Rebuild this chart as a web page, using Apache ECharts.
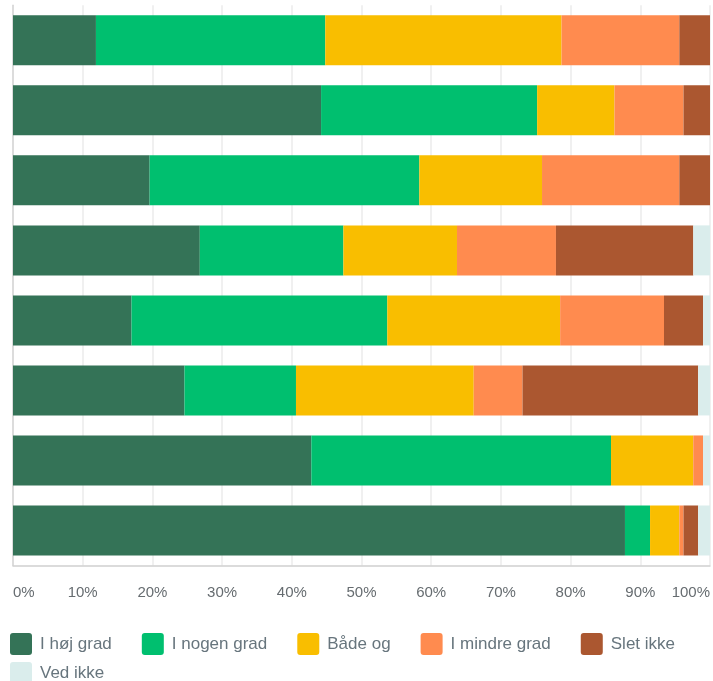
<!DOCTYPE html>
<html>
<head>
<meta charset="utf-8">
<script src="https://cdn.jsdelivr.net/npm/echarts@6/dist/echarts.min.js"></script>
<style>html,body{margin:0;padding:0;background:#fff;}#c{width:713px;height:681px;}</style>
</head>
<body>
<div id="c"></div>
<script>
const categories = ['1', '2', '3', '4', '5', '6', '7', '8'];
const seriesNames = ['I høj grad', 'I nogen grad', 'Både og', 'I mindre grad', 'Slet ikke', 'Ved ikke'];
const hojGrad    = [11.9, 44.2, 19.6, 26.8, 17.0, 24.6, 42.8, 87.8];
const nogenGrad  = [32.9, 31.0, 38.7, 20.6, 36.7, 16.0, 43.0, 3.6];
const badeOg     = [33.9, 11.1, 17.6, 16.3, 24.8, 25.5, 11.8, 4.2];
const mindreGrad = [16.9, 9.9, 19.7, 14.2, 14.9, 7.0, 1.4, 0.6];
const sletIkke   = [4.4, 3.8, 4.4, 19.7, 5.6, 25.2, 0, 2.1];
const vedIkke    = [0, 0, 0, 2.4, 1.0, 1.7, 1.0, 1.7];
const tickLabels = ['0%', '10%', '20%', '30%', '40%', '50%', '60%', '70%', '80%', '90%', '100%'];
const colors = ['#347357', '#00BF6F', '#F9BE00', '#FF8B4F', '#AB5730', '#DAEDEC'];

const values = [hojGrad, nogenGrad, badeOg, mindreGrad, sletIkke, vedIkke];
const chart = echarts.init(document.getElementById('c'), null, {renderer: 'canvas'});
const fontFamily = '"Liberation Sans", Arial, sans-serif';
const legendText = {color: '#67757d', fontSize: 17, fontFamily: fontFamily, padding: [0, 0, 0, 3]};
const legendBase = {
  left: 10, padding: 0, itemWidth: 22, itemHeight: 22, itemGap: 30,
  icon: 'path://M3,0 L19,0 Q22,0 22,3 L22,19 Q22,22 19,22 L3,22 Q0,22 0,19 L0,3 Q0,0 3,0 Z',
  textStyle: legendText
};
chart.setOption({
  animation: false,
  color: colors,
  grid: {left: 13, right: 1.5, top: 5.3, bottom: 115.5, containLabel: false},
  xAxis: {
    type: 'value', min: 0, max: 100, interval: 10,
    axisLabel: {
      formatter: v => tickLabels[Math.round(v / 10)],
      color: '#666c70', fontSize: 15, fontFamily: fontFamily, margin: 20,
      alignMinLabel: 'left', alignMaxLabel: 'right'
    },
    axisLine: {show: true, lineStyle: {color: '#d0d0d0', width: 1.5}},
    axisTick: {show: false},
    splitLine: {show: true, lineStyle: {color: '#ebebeb', width: 1.5}}
  },
  yAxis: {
    type: 'category', data: categories, inverse: true,
    axisLabel: {show: false},
    axisTick: {show: false},
    axisLine: {show: true, lineStyle: {color: '#d6d6d6', width: 1.5}}
  },
  legend: [
    Object.assign({data: seriesNames.slice(0, 5), top: 633}, legendBase),
    Object.assign({data: seriesNames.slice(5), top: 662}, legendBase)
  ],
  series: seriesNames.map((name, i) => ({
    name: name, type: 'bar', stack: 'total', barWidth: 50,
    data: values[i],
    itemStyle: {color: colors[i]}
  }))
});
</script>
</body>
</html>
